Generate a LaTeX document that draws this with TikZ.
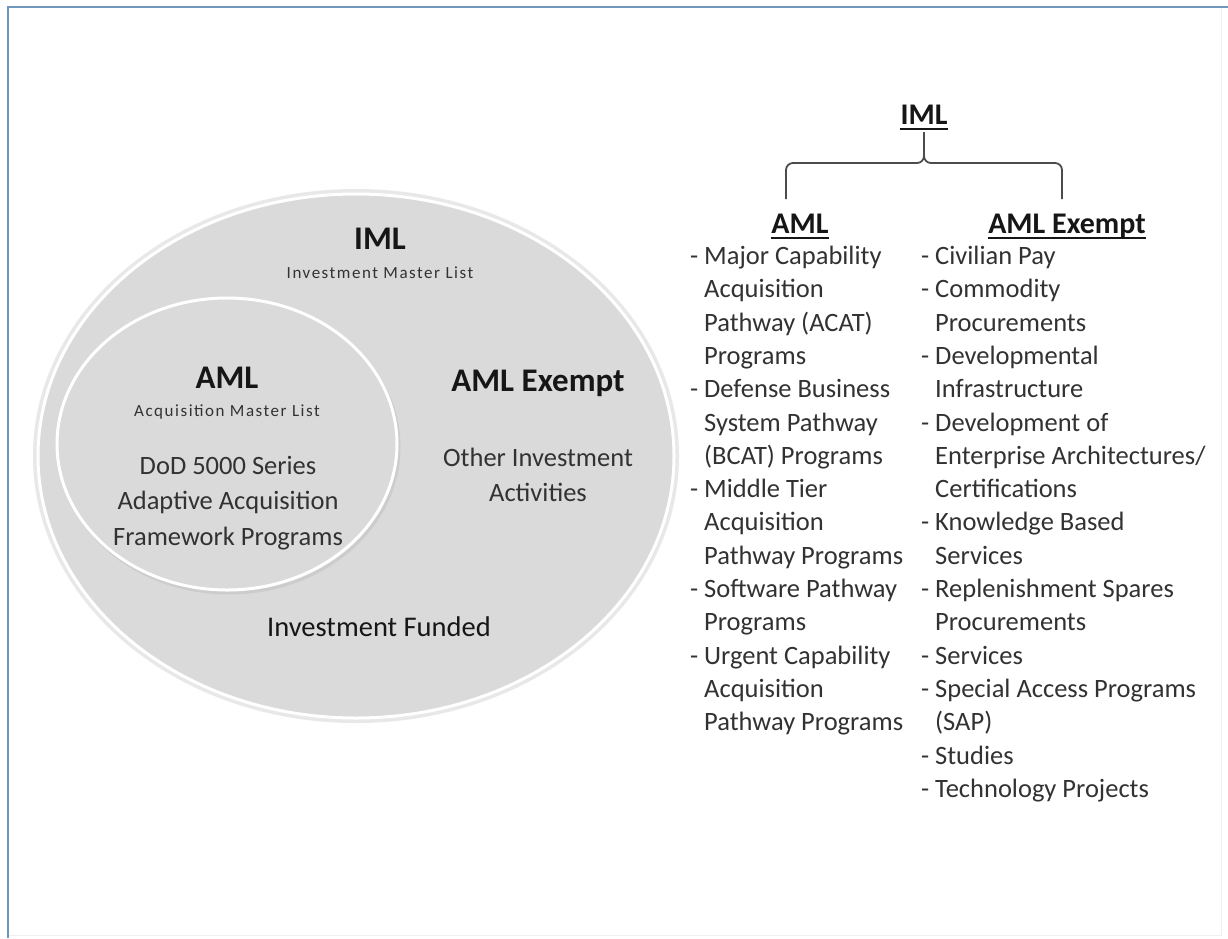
\documentclass[tikz,border=0pt]{standalone}
\usepackage{fontspec}
\setmainfont{Carlito}
\usetikzlibrary{calc}

\definecolor{venngray}{RGB}{218,218,218}
\definecolor{framecol}{RGB}{112,150,188}
\definecolor{inktext}{RGB}{50,50,50}
\definecolor{inkhead}{RGB}{22,22,22}

\newcommand{\centerlines}[1]{\begin{tabular}[t]{@{}c@{}}#1\end{tabular}}
\newcommand{\itemlines}[1]{\begin{tabular}[t]{@{}p{14pt}@{}l@{}}#1\end{tabular}}

\tikzset{
	venn/.style={fill=venngray, draw=white, line width=3pt},
	vennhead/.style={font=\fontsize{33}{36}\selectfont\bfseries, text=inkhead, inner sep=0pt, anchor=base},
	vennsub/.style={font=\fontsize{17}{20}\selectfont\addfontfeature{LetterSpace=9}, text=inktext, inner sep=0pt, anchor=base},
	venntext/.style={font=\fontsize{26.5}{35.5}\selectfont, text=inktext, inner sep=0pt, anchor=base},
	listhead/.style={font=\fontsize{30}{34}\selectfont\bfseries, text=inkhead, inner sep=0pt, anchor=base},
	listbody/.style={font=\fontsize{26.5}{33.3}\selectfont, text=inktext, inner sep=0pt, anchor=base west},
	underbar/.style={draw=inkhead, line width=2.4pt},
	bracket/.style={draw=black!70, line width=1.8pt, rounded corners=7pt}
}

\begin{document}
\begin{tikzpicture}[x=1pt,y=-1pt]
	\useasboundingbox (0,0) rectangle (1228,938);
	\fill[white] (0,0) rectangle (1228,938);
	% frame
	\draw[framecol, line width=2pt] (8,938) -- (8,7) -- (1228,7);
	\draw[black!6, line width=1pt] (1221,8) -- (1221,935) -- (9,935);

	% venn
	\fill[black!9] (356,456) ellipse [x radius=323, y radius=267];
	\draw[venn] (356,456) ellipse [x radius=318, y radius=262];
	\draw[black!20, line width=3pt] (229,447) ellipse [x radius=170, y radius=146];
	\draw[venn] (227,444) ellipse [x radius=170, y radius=146];

	\node[vennhead] (imlV) at (380,249) {IML};
	\node[vennsub] (imlVsub) at (380,278) {Investment Master List};
	\node[vennhead] (amlV) at (227,388) {AML};
	\node[vennsub] (amlVsub) at (227,416) {Acquisition Master List};
	\node[venntext] (dodV) at (228,474) {\centerlines{DoD 5000 Series\\Adaptive Acquisition\\Framework Programs}};
	\node[vennhead] (exV) at (538,391) {AML Exempt};
	\node[venntext] (otherV) at (538,466) {\centerlines{Other Investment\\Activities}};
	\node[venntext, font=\fontsize{28.5}{33}\selectfont, text=inkhead] (fundV) at (379,636) {Investment Funded};

	% tree
	\node[listhead] (imlR) at (924,124) {IML};
	\node[listhead] (amlR) at (800,233) {AML};
	\node[listhead] (exR) at (1067,233) {AML Exempt};
	\foreach \n in {imlR, amlR, exR}
		\draw[underbar] ($(\n.base west)+(0,5)$) -- ($(\n.base east)+(0,5)$);
	\coordinate (stem) at ($(imlR.base)+(0,8)$);
	\coordinate (bL) at (786,199);
	\coordinate (bR) at (1062,199);
	\draw[bracket] (bL) -- (bL |- 0,163) -- (stem |- 0,163) -- (stem);
	\draw[bracket] (bR) -- (bR |- 0,163) -- (stem |- 0,163) -- (stem);

	\node[listbody] (amlList) at (690,264.5) {\itemlines{
		- & Major Capability\\
		  & Acquisition\\
		  & Pathway (ACAT)\\
		  & Programs\\
		- & Defense Business\\
		  & System Pathway\\
		  & (BCAT) Programs\\
		- & Middle Tier\\
		  & Acquisition\\
		  & Pathway Programs\\
		- & Software Pathway\\
		  & Programs\\
		- & Urgent Capability\\
		  & Acquisition\\
		  & Pathway Programs}};
	\node[listbody] (exList) at (921,264.5) {\itemlines{
		- & Civilian Pay\\
		- & Commodity\\
		  & Procurements\\
		- & Developmental\\
		  & Infrastructure\\
		- & Development of\\
		  & Enterprise Architectures/\\
		  & Certifications\\
		- & Knowledge Based\\
		  & Services\\
		- & Replenishment Spares\\
		  & Procurements\\
		- & Services\\
		- & Special Access Programs\\
		  & (SAP)\\
		- & Studies\\
		- & Technology Projects}};
\end{tikzpicture}
\end{document}
